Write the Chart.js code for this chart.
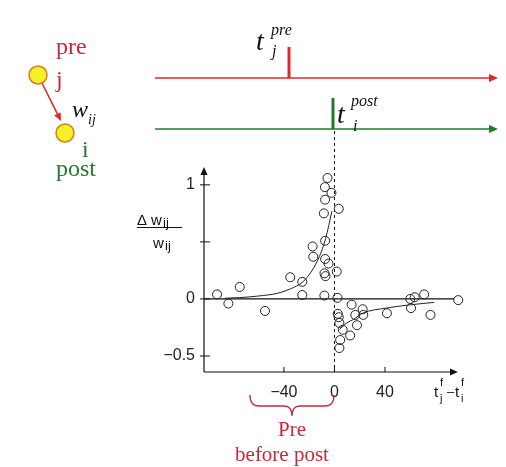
<!DOCTYPE html>
<html>
<head>
<meta charset="utf-8">
<script src="https://cdn.jsdelivr.net/npm/chart.js@4.4.1/dist/chart.umd.min.js"></script>
<style>
  html, body { margin: 0; padding: 0; background: #fff; }
  #stdp { display: block; }
</style>
</head>
<body>
<canvas id="stdp" width="506" height="467"></canvas>
<script>
// spike timing difference (ms) and relative weight change of each measured pair
const pairDt = [-93, -84, -75, -55, -35, -25.5, -25.5, -17.3, -16.8, -8, -7.4, -7.4, -4.7, -7.9, -7.1,
    -8.4, -7.4, -7.6, -5.5, -2.4, 3.4, 1.8, 2.4, 13.6, 2.6, 3.4, 3.9, 6.5, 4.5, 3.9, 12.4, 17.8,
    16.5, 22.3, 22.8, 41.5, 60.6, 60, 63.5, 71, 76, 98];
const pairDw = [0.04, -0.04, 0.105, -0.105, 0.19, 0.15, 0.035, 0.46, 0.37, 0.03, 0.51, 0.35, 0.31, 0.225, 0.2,
    0.75, 0.87, 0.98, 1.06, 0.93, 0.79, 0.24, 0.01, -0.05, -0.13, -0.16, -0.21, -0.27, -0.36, -0.43, -0.32, -0.23,
    -0.14, -0.09, -0.14, -0.125, -0.08, 0, 0.015, 0.04, -0.14, -0.01];

// fitted curves
const ltpCurveX = [-87, -75, -60, -45, -35, -25, -18, -12, -7, -2];
const ltpCurveY = [0.006, 0.012, 0.026, 0.05, 0.088, 0.15, 0.245, 0.37, 0.53, 0.77];
const ltdCurveX = [3.9, 9.7, 15, 22.3, 41, 61, 79];
const ltdCurveY = [-0.27, -0.21, -0.18, -0.125, -0.08, -0.05, -0.03];

// axes
const xTicks = [-40, 0, 40];
const xTickLabels = ['\u221240', '0', '40'];
const yTicks = [-0.5, 0, 0.5, 1];
const yTickLabels = ['\u22120.5', '0', '', '1'];
const xMin = -103.3, xMax = 97.8;
const yMin = -0.64, yMax = 1.13;

// spike times on the top time lines
const tPre = -36;
const tPost = 0;

const RED = '#dc2a2a';
const RED_TEXT = '#c8283a';
const GREEN = '#237a2e';
const SERIF = '"Liberation Serif", "Times New Roman", serif';
const SANS = '"Liberation Sans", Arial, sans-serif';

function toPoints(xs, ys) {
    return xs.map(function (x, i) { return { x: x, y: ys[i] }; });
}

function text(ctx, str, x, y, font, color, align) {
    ctx.font = font;
    ctx.fillStyle = color;
    ctx.textAlign = align || 'left';
    ctx.textBaseline = 'alphabetic';
    ctx.fillText(str, x, y);
}

function arrowLine(ctx, x1, y1, x2, y2, color, width, head) {
    const ang = Math.atan2(y2 - y1, x2 - x1);
    ctx.strokeStyle = color;
    ctx.fillStyle = color;
    ctx.lineWidth = width;
    ctx.beginPath();
    ctx.moveTo(x1, y1);
    ctx.lineTo(x2 - Math.cos(ang) * head * 0.8, y2 - Math.sin(ang) * head * 0.8);
    ctx.stroke();
    ctx.beginPath();
    ctx.moveTo(x2, y2);
    ctx.lineTo(x2 - head * Math.cos(ang) + head * 0.45 * Math.sin(ang), y2 - head * Math.sin(ang) - head * 0.45 * Math.cos(ang));
    ctx.lineTo(x2 - head * Math.cos(ang) - head * 0.45 * Math.sin(ang), y2 - head * Math.sin(ang) + head * 0.45 * Math.cos(ang));
    ctx.closePath();
    ctx.fill();
}

const stdpDecor = {
    id: 'stdpDecor',
    beforeDatasetsDraw(chart) {
        const ctx = chart.ctx;
        const a = chart.chartArea;
        const xs = chart.scales.x, ys = chart.scales.y;
        ctx.save();
        // axes
        arrowLine(ctx, a.left, a.bottom, a.left, a.top - 3, '#111', 1.2, 8);
        arrowLine(ctx, a.left, a.bottom, a.right, a.bottom, '#111', 1.2, 8);
        // zero line
        const y0 = ys.getPixelForValue(0);
        ctx.strokeStyle = '#111';
        ctx.lineWidth = 1.3;
        ctx.beginPath();
        ctx.moveTo(a.left, y0);
        ctx.lineTo(a.right - 4, y0);
        ctx.stroke();
        // tick marks
        ctx.lineWidth = 1;
        xTicks.forEach(function (v) {
            const px = xs.getPixelForValue(v);
            ctx.beginPath();
            ctx.moveTo(px, a.bottom);
            ctx.lineTo(px, a.bottom - 5);
            ctx.stroke();
        });
        yTicks.forEach(function (v) {
            const py = ys.getPixelForValue(v);
            ctx.beginPath();
            ctx.moveTo(a.left - 4, py);
            ctx.lineTo(a.left + 6, py);
            ctx.stroke();
        });
        // dashed line at the post spike
        const xp = xs.getPixelForValue(tPost);
        ctx.setLineDash([3, 3]);
        ctx.beginPath();
        ctx.moveTo(xp, 131);
        ctx.lineTo(xp, a.bottom);
        ctx.stroke();
        ctx.setLineDash([]);
        ctx.restore();
    },
    afterDraw(chart) {
        const ctx = chart.ctx;
        const xs = chart.scales.x;
        ctx.save();

        // time lines with spikes
        arrowLine(ctx, 155, 78, 498, 78, RED, 1.4, 9);
        arrowLine(ctx, 155, 129, 498, 129, GREEN, 1.4, 9);
        const xPre = xs.getPixelForValue(tPre);
        const xPost = xs.getPixelForValue(tPost);
        ctx.lineWidth = 3;
        ctx.strokeStyle = RED;
        ctx.beginPath(); ctx.moveTo(xPre, 78); ctx.lineTo(xPre, 47); ctx.stroke();
        ctx.strokeStyle = GREEN;
        ctx.beginPath(); ctx.moveTo(xPost - 1.5, 129); ctx.lineTo(xPost - 1.5, 98); ctx.stroke();

        text(ctx, 't', 256, 50, 'italic 28px ' + SERIF, '#111');
        text(ctx, 'pre', 271, 35, 'italic 16px ' + SERIF, '#111');
        text(ctx, 'j', 272, 56, 'italic 16px ' + SERIF, '#111');
        text(ctx, 't', 337, 123, 'italic 28px ' + SERIF, '#111');
        text(ctx, 'post', 351, 106, 'italic 16px ' + SERIF, '#111');
        text(ctx, 'i', 353, 131, 'italic 16px ' + SERIF, '#111');

        // neuron pair
        arrowLine(ctx, 42, 83, 61, 121, RED, 1.6, 8);
        [[38, 75], [65, 133]].forEach(function (c) {
            ctx.beginPath();
            ctx.arc(c[0], c[1], 9, 0, Math.PI * 2);
            ctx.fillStyle = '#f6f02a';
            ctx.fill();
            ctx.lineWidth = 1.5;
            ctx.strokeStyle = '#e07a1a';
            ctx.stroke();
        });
        text(ctx, 'pre', 56, 54, '24px ' + SERIF, RED_TEXT);
        text(ctx, 'j', 56, 87, '24px ' + SERIF, RED_TEXT);
        text(ctx, 'w', 72, 117, 'italic 24px ' + SERIF, '#111');
        text(ctx, 'ij', 88, 124, 'italic 14px ' + SERIF, '#111');
        text(ctx, 'i', 82, 157, '24px ' + SERIF, GREEN);
        text(ctx, 'post', 56, 176, '24px ' + SERIF, GREEN);

        // y axis title
        text(ctx, '\u0394', 137, 225, '15px ' + SANS, '#111');
        text(ctx, 'w', 151, 225, '15px ' + SANS, '#111');
        text(ctx, 'ij', 163, 227, '13px ' + SANS, '#111');
        ctx.strokeStyle = '#111';
        ctx.lineWidth = 1.2;
        ctx.beginPath(); ctx.moveTo(137, 227.5); ctx.lineTo(182, 227.5); ctx.stroke();
        text(ctx, 'w', 153, 248, '15px ' + SANS, '#111');
        text(ctx, 'ij', 165, 250, '13px ' + SANS, '#111');

        // x axis title
        text(ctx, 't', 434, 397, '15px ' + SANS, '#111');
        text(ctx, 'f', 440, 386, '11px ' + SANS, '#111');
        text(ctx, 'j', 440, 402, '11px ' + SANS, '#111');
        text(ctx, '\u2013', 447, 396, '13px ' + SANS, '#111');
        text(ctx, 't', 455, 397, '15px ' + SANS, '#111');
        text(ctx, 'f', 461, 386, '11px ' + SANS, '#111');
        text(ctx, 'i', 461, 402, '11px ' + SANS, '#111');

        // brace under the pre-before-post side
        const bx0 = 250, bx1 = 334, bm = 292;
        const yTop = 395, yMid = 406, yTip = 416;
        ctx.strokeStyle = RED_TEXT;
        ctx.lineWidth = 1.3;
        ctx.beginPath();
        ctx.moveTo(bx0, yTop);
        ctx.quadraticCurveTo(bx0, yMid, bx0 + 9, yMid);
        ctx.lineTo(bm - 8, yMid);
        ctx.quadraticCurveTo(bm, yMid, bm, yTip);
        ctx.quadraticCurveTo(bm, yMid, bm + 8, yMid);
        ctx.lineTo(bx1 - 9, yMid);
        ctx.quadraticCurveTo(bx1, yMid, bx1, yTop);
        ctx.stroke();
        text(ctx, 'Pre', 292, 436, '21px ' + SERIF, RED_TEXT, 'center');
        text(ctx, 'before post', 282, 461, '21px ' + SERIF, RED_TEXT, 'center');

        ctx.restore();
    }
};

const ctx = document.getElementById('stdp').getContext('2d');
const stdpChart = new Chart(ctx, {
    type: 'scatter',
    data: {
        datasets: [{
            label: 'pairs',
            data: toPoints(pairDt, pairDw),
            pointStyle: 'circle',
            pointRadius: 4.5,
            pointBorderWidth: 1,
            pointBorderColor: '#222',
            pointBackgroundColor: 'rgba(255,255,255,0)',
            clip: false
        }, {
            label: 'ltp fit',
            data: toPoints(ltpCurveX, ltpCurveY),
            showLine: true,
            borderColor: '#222',
            borderWidth: 1,
            pointRadius: 0,
            cubicInterpolationMode: 'monotone'
        }, {
            label: 'ltd fit',
            data: toPoints(ltdCurveX, ltdCurveY),
            showLine: true,
            borderColor: '#222',
            borderWidth: 1,
            pointRadius: 0,
            cubicInterpolationMode: 'monotone'
        }]
    },
    options: {
        responsive: false,
        animation: false,
        layout: { padding: { left: 0, top: 170, right: 48, bottom: 0 } },
        plugins: { legend: { display: false }, tooltip: { enabled: false } },
        scales: {
            x: {
                type: 'linear',
                min: xMin,
                max: xMax,
                grid: { display: false, drawTicks: false },
                border: { display: false },
                ticks: {
                    padding: 11,
                    maxRotation: 0,
                    autoSkip: false,
                    color: '#222',
                    font: { family: SANS, size: 16 },
                    callback: function (v, i) { return xTickLabels[i]; }
                },
                afterBuildTicks: function (s) { s.ticks = xTicks.map(function (v) { return { value: v }; }); },
                afterFit: function (s) { s.height = 95; }
            },
            y: {
                type: 'linear',
                min: yMin,
                max: yMax,
                grid: { display: false, drawTicks: false },
                border: { display: false },
                ticks: {
                    padding: 9,
                    autoSkip: false,
                    color: '#222',
                    font: { family: SANS, size: 16 },
                    callback: function (v, i) { return yTickLabels[i]; }
                },
                afterBuildTicks: function (s) { s.ticks = yTicks.map(function (v) { return { value: v }; }); },
                afterFit: function (s) { s.width = 204; }
            }
        }
    },
    plugins: [stdpDecor]
});
</script>
</body>
</html>
